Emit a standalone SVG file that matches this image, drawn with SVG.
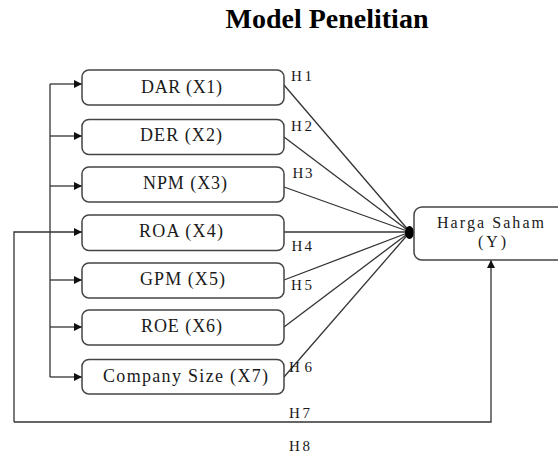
<svg xmlns="http://www.w3.org/2000/svg" width="558" height="454" viewBox="0 0 558 454">
<style>
.box{fill:#fff;stroke:#444;stroke-width:1.5}
.t{font-family:"Liberation Serif","Times New Roman",serif;font-size:18px;fill:#1a1a1a}
.h{font-family:"Liberation Serif","Times New Roman",serif;font-size:15px;fill:#1a1a1a}
.ln{fill:none;stroke:#333;stroke-width:1.3}
.title{font-family:"Liberation Serif","Times New Roman",serif;font-size:28px;font-weight:bold;fill:#000}
</style>
<defs>
<marker id="ah" viewBox="0 0 10 10" refX="10" refY="5" markerWidth="9" markerHeight="8" markerUnits="userSpaceOnUse" orient="auto">
<path d="M0,0 L10,5 L0,10 z" fill="#111"/>
</marker>
</defs>
<rect width="558" height="454" fill="#fff"/>
<text class="title" x="327" y="28" text-anchor="middle">Model Penelitian</text>

<g id="connectors">
<path class="ln" d="M50,84 V377"/>
<path class="ln" d="M50,84 H82" marker-end="url(#ah)"/>
<path class="ln" d="M50,136 H82" marker-end="url(#ah)"/>
<path class="ln" d="M50,186 H82" marker-end="url(#ah)"/>
<path class="ln" d="M50,280 H82" marker-end="url(#ah)"/>
<path class="ln" d="M50,327 H82" marker-end="url(#ah)"/>
<path class="ln" d="M50,377 H82" marker-end="url(#ah)"/>
<path class="ln" d="M14,422 V232 H82" marker-end="url(#ah)"/>
<path class="ln" d="M14,422 H491 V260" marker-end="url(#ah)"/>
<path class="ln" d="M284,85 L410,232"/>
<path class="ln" d="M284,137 L410,232"/>
<path class="ln" d="M284,187 L410,232"/>
<path class="ln" d="M284,232 L410,232"/>
<path class="ln" d="M284,280 L410,232"/>
<path class="ln" d="M284,327 L410,232"/>
<path class="ln" d="M284,377 L410,232"/>
<ellipse cx="409.5" cy="232.5" rx="4.5" ry="6.5" fill="#000"/>
</g>

<g id="labels">
<text class="h" x="291" y="81" textLength="21" lengthAdjust="spacing">H1</text>
<text class="h" x="291" y="131" textLength="21" lengthAdjust="spacing">H2</text>
<text class="h" x="292.5" y="178" textLength="20" lengthAdjust="spacing">H3</text>
<text class="h" x="291.5" y="250.5" textLength="20.5" lengthAdjust="spacing">H4</text>
<text class="h" x="291" y="290" textLength="21" lengthAdjust="spacing">H5</text>
<text class="h" x="289" y="372" textLength="23" lengthAdjust="spacing">H6</text>
<text class="h" x="289" y="418" textLength="21" lengthAdjust="spacing">H7</text>
<text class="h" x="289" y="451" textLength="21" lengthAdjust="spacing">H8</text>
</g>

<g id="n1"><rect class="box" x="82" y="70" width="202" height="35" rx="7"/><text class="t" x="141" y="92.5" textLength="81" lengthAdjust="spacing">DAR (X1)</text></g>
<g id="n2"><rect class="box" x="82" y="119.5" width="202" height="35" rx="7"/><text class="t" x="140" y="140.5" textLength="82" lengthAdjust="spacing">DER (X2)</text></g>
<g id="n3"><rect class="box" x="82" y="167" width="202" height="35" rx="7"/><text class="t" x="143" y="189" textLength="84" lengthAdjust="spacing">NPM (X3)</text></g>
<g id="n4"><rect class="box" x="82" y="215" width="202" height="35.5" rx="7"/><text class="t" x="139" y="236.5" textLength="84" lengthAdjust="spacing">ROA (X4)</text></g>
<g id="n5"><rect class="box" x="82" y="263" width="202" height="35" rx="7"/><text class="t" x="140" y="285" textLength="85" lengthAdjust="spacing">GPM (X5)</text></g>
<g id="n6"><rect class="box" x="82" y="310" width="202" height="35" rx="7"/><text class="t" x="141" y="331.5" textLength="81" lengthAdjust="spacing">ROE (X6)</text></g>
<g id="n7"><rect class="box" x="82" y="359.5" width="202" height="34.5" rx="7"/><text class="t" x="103" y="381.5" textLength="165" lengthAdjust="spacing">Company Size (X7)</text></g>
<g id="y"><rect class="box" x="414" y="207" width="160" height="53" rx="8"/><text class="t" x="437" y="228" textLength="107" lengthAdjust="spacing" style="font-size:16px">Harga Saham</text><text class="t" x="478" y="247" textLength="28" lengthAdjust="spacing" style="font-size:16px">(Y)</text></g>
</svg>
